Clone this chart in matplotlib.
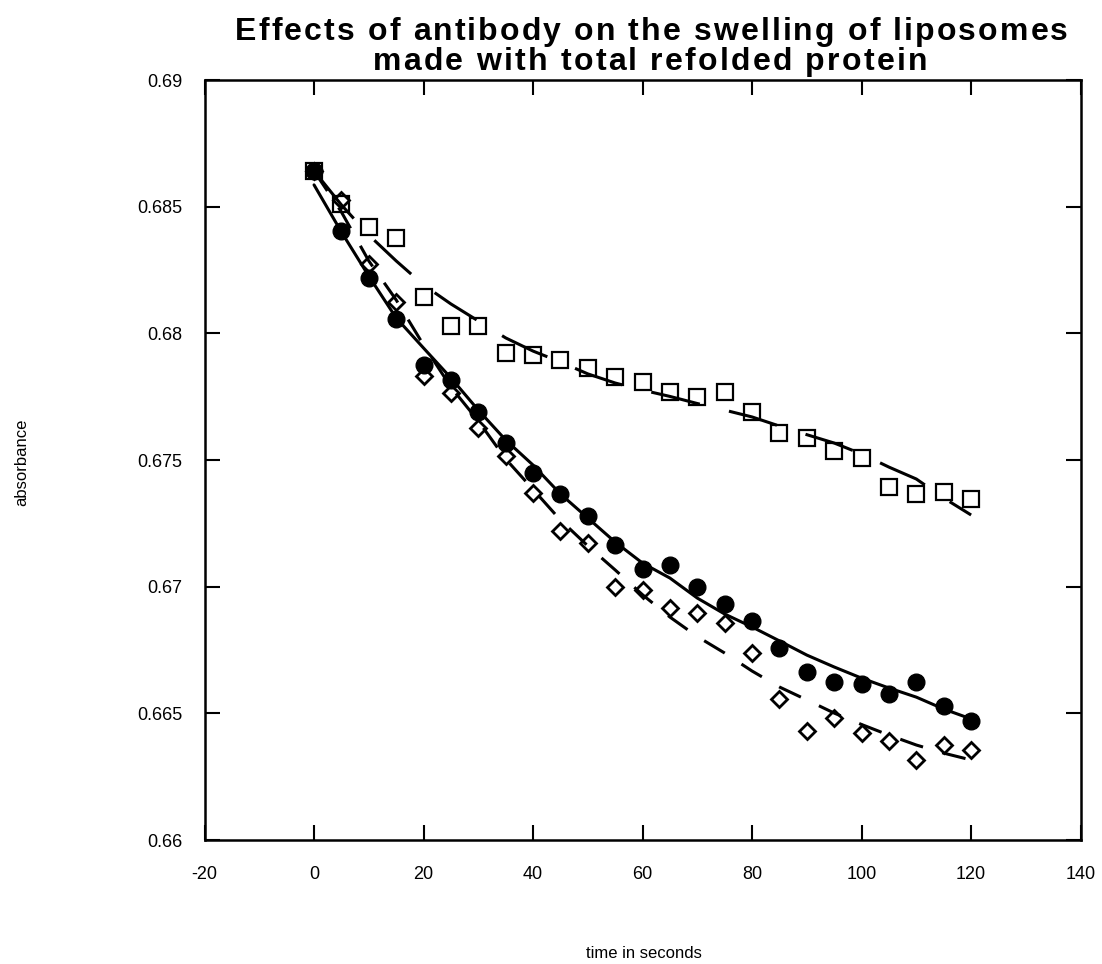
import matplotlib
matplotlib.use("Agg")
import matplotlib.pyplot as plt
from matplotlib.transforms import IdentityTransform
import numpy as np

plt.rcParams['font.family'] = ['Liberation Sans', 'DejaVu Sans']
plt.rcParams['lines.scale_dashes'] = False
plt.rcParams['axes.unicode_minus'] = False

# time points (s)
t = [0, 5, 10, 15, 20, 25, 30, 35, 40, 45, 50, 55, 60,
     65, 70, 75, 80, 85, 90, 95, 100, 105, 110, 115, 120]

# measured absorbance
circles = [0.68642, 0.68405, 0.68217, 0.68055, 0.67875, 0.67816, 0.67691,
           0.67566, 0.67450, 0.67366, 0.67279, 0.67164, 0.67068, 0.67085,
           0.67000, 0.66932, 0.66866, 0.66759, 0.66662, 0.66625, 0.66614,
           0.66576, 0.66625, 0.66529, 0.66471]
squares = [0.68642, 0.68510, 0.68421, 0.68375, 0.68145, 0.68029, 0.68029,
           0.67924, 0.67914, 0.67895, 0.67864, 0.67826, 0.67807, 0.67767,
           0.67750, 0.67770, 0.67691, 0.67605, 0.67586, 0.67537, 0.67508,
           0.67393, 0.67365, 0.67375, 0.67345]
diamonds = [0.68642, 0.68526, 0.68274, 0.68125, 0.67832, 0.67763, 0.67625,
            0.67516, 0.67371, 0.67220, 0.67174, 0.67000, 0.66987, 0.66915,
            0.66895, 0.66855, 0.66740, 0.66558, 0.66431, 0.66480, 0.66421,
            0.66392, 0.66316, 0.66375, 0.66355]

# smoothed curves
circles_fit = [0.68586, 0.68400, 0.68226, 0.68061, 0.67942, 0.67824, 0.67697,
               0.67579, 0.67480, 0.67366, 0.67271, 0.67176, 0.67093, 0.67034,
               0.66955, 0.66892, 0.66841, 0.66786, 0.66730, 0.66683, 0.66639,
               0.66600, 0.66564, 0.66517, 0.66478]
squares_fit = [0.68641, 0.68507, 0.68388, 0.68286, 0.68191, 0.68116, 0.68049,
               0.67982, 0.67930, 0.67887, 0.67840, 0.67804, 0.67776, 0.67751,
               0.67723, 0.67697, 0.67670, 0.67634, 0.67600, 0.67567, 0.67524,
               0.67472, 0.67425, 0.67350, 0.67283]
diamonds_fit = [0.68641, 0.68479, 0.68286, 0.68132, 0.67954, 0.67788, 0.67654,
                0.67504, 0.67384, 0.67263, 0.67161, 0.67066, 0.66968, 0.66880,
                0.66803, 0.66738, 0.66667, 0.66604, 0.66553, 0.66501, 0.66456,
                0.66414, 0.66375, 0.66343, 0.66316]

title_lines = ['Effects of antibody on the swelling of liposomes',
               'made with total refolded protein']

fig = plt.figure(figsize=(11.02, 9.64), dpi=100)
ax = fig.add_axes([0.1856, 0.1286, 0.795, 0.7884])

lw = 2.2
ax.plot(t, squares_fit, color='black', lw=lw, linestyle=(49, (36, 21.6)))
ax.plot(t, diamonds_fit, color='black', lw=lw, linestyle=(0, (17.3, 14.4)))
ax.plot(t, circles_fit, color='black', lw=lw, solid_capstyle='round')

ax.plot(t, squares, 's', ms=11.5, mfc='none', mec='black', mew=1.6)
ax.plot(t, diamonds, 'D', ms=8, mfc='none', mec='black', mew=2)
ax.plot(t, circles, 'o', ms=12, mfc='black', mec='black')

ax.set_xlim(-20, 140)
ax.set_ylim(0.66, 0.69)
ax.set_xticks(np.arange(-20, 141, 20))
ax.set_yticks([0.66, 0.665, 0.67, 0.675, 0.68, 0.685, 0.69])
ax.set_yticklabels(['0.66', '0.665', '0.67', '0.675', '0.68', '0.685', '0.69'])
ax.tick_params(direction='in', length=11, width=1.5, top=True, right=True,
               labelsize=13, pad=16)
ax.tick_params(axis='x', pad=19)
for s in ax.spines.values():
    s.set_linewidth(1.8)

# title with slightly wider letter spacing (drawn char by char, pixel coords)
renderer = fig.canvas.get_renderer()
tkw = dict(fontsize=23, fontweight='bold')

def text_w(s):
    tt = fig.text(0, 0, s, transform=IdentityTransform(), **tkw)
    w = tt.get_window_extent(renderer).width
    tt.remove()
    return w

bar_w = text_w('||')
for line, (x0, x1, base) in zip(title_lines, [(235, 1068, 924), (373, 927, 894)]):
    widths = [text_w('|' + c + '|') - bar_w for c in line]
    extra = (x1 - x0 - sum(widths)) / (len(line) - 1)
    x = x0
    for c, w in zip(line, widths):
        if c != ' ':
            fig.text(x, base, c, transform=IdentityTransform(), va='baseline', ha='left', **tkw)
        x += w + extra

fig.text(0.584, 0.011, 'time in seconds', ha='center', va='center', fontsize=12)
fig.text(0.02, 0.52, 'absorbance', ha='center', va='center', rotation=90, fontsize=12)

fig.savefig('out.png', dpi=100)
